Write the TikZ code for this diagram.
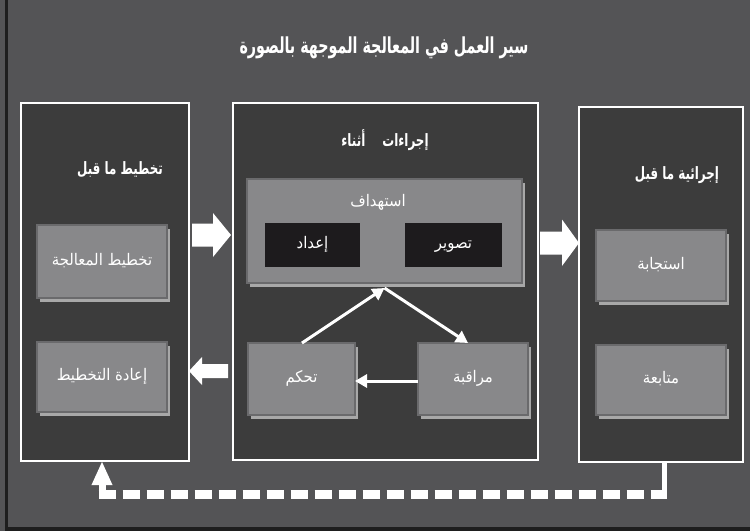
\documentclass[tikz,border=0pt]{standalone}
\usepackage{fontspec}
\usetikzlibrary{arrows.meta,shadows,calc}
\TeXXeTstate=1
\newfontfamily\arabicfont[Script=Arabic, FakeStretch=0.93]{DejaVu Sans}
\newfontfamily\arabichead[Script=Arabic, FakeStretch=0.7]{DejaVu Sans}
\newfontfamily\arabictitle[Script=Arabic, FakeStretch=0.65]{DejaVu Sans}
\newcommand{\artext}[1]{{\arabicfont\beginR #1\endR}}
\newcommand{\arhead}[1]{{\arabichead\bfseries\beginR #1\endR}}
\newcommand{\artitle}[1]{{\arabictitle\bfseries\beginR #1\endR}}

\definecolor{bg}{HTML}{545456}
\definecolor{panelfill}{HTML}{3C3C3C}
\definecolor{boxfill}{HTML}{88888A}
\definecolor{boxline}{HTML}{6A6A6C}
\definecolor{boxshade}{HTML}{A8A8A8}
\definecolor{inkbox}{HTML}{1D1B1D}
\definecolor{frameline}{HTML}{1E1E1E}

\tikzset{
  panel/.style={draw=white, line width=2.5pt, fill=panelfill, inner sep=0pt, outer sep=0pt},
  card/.style={fill=boxfill, draw=boxline, line width=2.5pt, inner sep=0pt, outer sep=0pt,
    general shadow={fill=boxshade, draw=none, shadow xshift=3pt, shadow yshift=-4pt},
    text=white, font=\fontsize{16}{18}\selectfont, text height=12pt, text depth=5pt},
  inkcard/.style={fill=inkbox, draw=none, inner sep=0pt, outer sep=0pt,
    text=white, font=\fontsize{16}{18}\selectfont, text height=12pt, text depth=5pt},
  cardtitle/.style={text=white, inner sep=0pt, font=\fontsize{16}{18}\selectfont},
  heading/.style={text=white, inner sep=0pt, font=\fontsize{17}{20}\selectfont},
  bigheading/.style={text=white, inner sep=0pt, font=\fontsize{22}{26}\selectfont},
  flow/.style={draw=white, line width=3pt, -{Triangle[length=12pt,width=13pt]}},
  blockarrow/.style={fill=white, draw=none},
}

\begin{document}
\begin{tikzpicture}[x=1pt,y=-1pt]
  % canvas and its dark edge
  \fill[bg] (0,0) rectangle (750,531);
  \useasboundingbox (0,0) rectangle (750,531);
  \draw[frameline, line width=3pt] (6.5,0) -- (6.5,528);
  \draw[frameline, line width=4pt] (5,528.5) -- (750,528.5);

  \node[bigheading] (title) at (384,48) {\artitle{سير العمل في المعالجة الموجهة بالصورة}};

  % three stage panels
  \node[panel, minimum width=168pt, minimum height=358pt] (lp) at (105,282) {};
  \node[panel, minimum width=305pt, minimum height=357pt] (cp) at (385.5,281.5) {};
  \node[panel, minimum width=164pt, minimum height=355pt] (rp) at (661,284.5) {};

  \node[heading] (lpt) at (120,170) {\arhead{تخطيط ما قبل}};
  \node[heading] (cpt) at (385,140) {\arhead{إجراءات\hspace{1em}أثناء}};
  \node[heading] (rpt) at (677,175) {\arhead{إجرائية ما قبل}};

  % left panel cards
  \node[card, minimum width=130pt, minimum height=73pt] (plan) at (102,261.5) {\artext{تخطيط المعالجة}};
  \node[card, minimum width=130pt, minimum height=70pt] (replan) at (102,377) {\artext{إعادة التخطيط}};

  % centre panel cards
  \node[card, minimum width=275pt, minimum height=104pt] (target) at (384.5,231) {};
  \node[cardtitle] (targett) at (378,202) {\artext{استهداف}};
  \node[inkcard, minimum width=95pt, minimum height=44pt] (prep) at (312.5,245) {\artext{إعداد}};
  \node[inkcard, minimum width=97pt, minimum height=44pt] (imaging) at (453.5,245) {\artext{تصوير}};
  \node[card, minimum width=107pt, minimum height=72pt] (ctrl) at (301.5,379) {\artext{تحكم}};
  \node[card, minimum width=110pt, minimum height=72pt] (mon) at (473,379) {\artext{مراقبة}};

  % right panel cards
  \node[card, minimum width=130pt, minimum height=71pt] (resp) at (661,265.5) {\artext{استجابة}};
  \node[card, minimum width=130pt, minimum height=70pt] (follow) at (661,380) {\artext{متابعة}};

  % cycle inside the centre panel
  \draw[flow] ([xshift=0.5pt]ctrl.north) -- ([yshift=-5pt]target.south);
  \draw[flow] ([yshift=-5pt]target.south) -- ([xshift=-5pt]mon.north);
  \draw[flow] ([yshift=-2pt]mon.west) -- ([yshift=-2pt]ctrl.east);

  % block arrows between panels
  \coordinate (t1) at ([xshift=-2pt]cp.west |- 0,235);
  \fill[blockarrow] (t1) -- ++(-18,-22) -- ++(0,10.5) -- ++(-21,0) -- ++(0,23)
    -- ++(21,0) -- ++(0,10.5) -- cycle;
  \coordinate (t2) at (rp.west |- 0,243);
  \fill[blockarrow] (t2) -- ++(-17,-23.5) -- ++(0,12) -- ++(-22,0) -- ++(0,23)
    -- ++(22,0) -- ++(0,11.5) -- cycle;
  \coordinate (t3) at (lp.east |- 0,371);
  \fill[blockarrow] (t3) -- ++(13,-14) -- ++(0,7) -- ++(26,0) -- ++(0,14)
    -- ++(-26,0) -- ++(0,7) -- cycle;

  % dashed return path from the right panel back to the left panel
  \coordinate (dr) at ([xshift=3pt]rp.south |- 0,490);
  \coordinate (dl) at ([xshift=-3pt]lp.south |- 0,494.5);
  \draw[white, line width=5pt] ([xshift=3pt]rp.south) -- (dr);
  \draw[white, line width=9pt, dash pattern=on 17.7pt off 6.3pt]
    ([xshift=-3.5pt]dl) -- (dl -| dr) -- ++(2.5,0);
  \draw[white, line width=7pt, -{Triangle[length=24pt,width=19pt]}]
    (dl) -- ([xshift=-3pt]lp.south);
\end{tikzpicture}
\end{document}
